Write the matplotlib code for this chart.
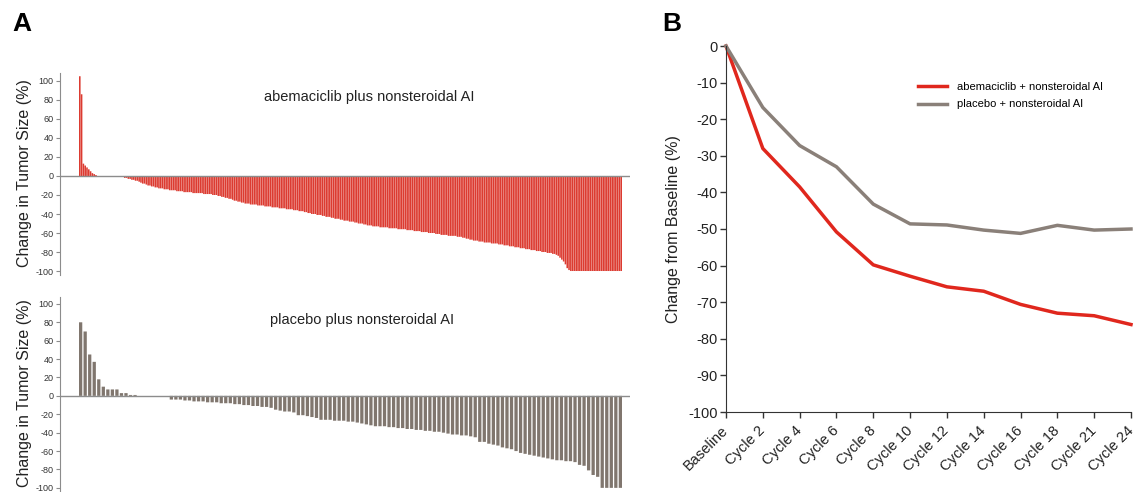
import matplotlib
matplotlib.use('Agg')
import matplotlib.pyplot as plt
import numpy as np

plt.rcParams['font.family'] = ['Liberation Sans', 'DejaVu Sans']
plt.rcParams['axes.unicode_minus'] = False

W, H = 1135, 492

# --- panel A data: best change in tumor size (%), sorted ---
abema_change = [
    105, 86, 13, 11, 9, 7, 5, 3, 2, 1,
    0, 0, 0, 0, 0, 0, 0, 0, 0, 0, 0, 0, 0,
    -1, -1, -2, -2, -3, -3, -4, -4, -5, -5,
    -6, -7, -8, -8, -9, -10, -10, -11, -11, -12,
    -12, -13, -13, -13, -14, -14, -14, -15, -15, -15,
    -15, -16, -16, -16, -16, -17, -17, -17, -17, -17,
    -18, -18, -18, -18, -18, -18, -19, -19, -19, -19,
    -19, -20, -20, -20, -21, -21, -22, -22, -23, -23,
    -24, -24, -25, -26, -26, -27, -27, -28, -28, -29,
    -29, -29, -30, -30, -30, -30, -31, -31, -31, -31,
    -32, -32, -32, -32, -33, -33, -33, -33, -34, -34,
    -34, -34, -35, -35, -35, -35, -36, -36, -36, -37,
    -37, -37, -38, -38, -39, -39, -40, -40, -40, -41,
    -41, -41, -42, -42, -43, -43, -43, -44, -44, -45,
    -45, -45, -46, -46, -47, -47, -47, -48, -48, -48,
    -49, -49, -50, -50, -50, -51, -51, -52, -52, -52,
    -53, -53, -53, -53, -54, -54, -54, -54, -54, -55,
    -55, -55, -55, -55, -56, -56, -56, -56, -56, -57,
    -57, -57, -57, -58, -58, -58, -58, -59, -59, -59,
    -59, -60, -60, -60, -60, -61, -61, -61, -62, -62,
    -62, -62, -63, -63, -63, -63, -63, -64, -64, -64,
    -65, -65, -66, -66, -67, -67, -68, -68, -68, -69,
    -69, -69, -70, -70, -70, -70, -71, -71, -71, -71,
    -72, -72, -72, -73, -73, -73, -74, -74, -74, -75,
    -75, -75, -76, -76, -76, -77, -77, -77, -78, -78,
    -78, -79, -79, -79, -80, -80, -80, -81, -81, -81,
    -82, -82, -83, -84, -86, -88, -90, -93, -97, -99,
    -100, -100, -100, -100, -100, -100, -100, -100, -100, -100,
    -100, -100, -100, -100, -100, -100, -100, -100, -100, -100,
    -100, -100, -100, -100, -100, -100, -100, -100, -100,
]

placebo_change = [
    80, 70, 45, 37, 18, 10, 7, 7, 7, 3, 3, 1, 1,
    0, 0, 0, 0, 0, 0, 0,
    -4, -4, -4, -5, -5, -6, -6, -6, -7, -7,
    -7, -8, -8, -8, -9, -9, -10, -10, -11, -11,
    -12, -12, -13, -15, -16, -17, -17, -18, -21, -21,
    -22, -23, -24, -26, -26, -26, -27, -27, -27, -28,
    -28, -29, -30, -31, -32, -33, -33, -33, -34, -34,
    -35, -35, -36, -36, -37, -37, -38, -38, -39, -39,
    -40, -41, -42, -42, -43, -43, -44, -45, -50, -50,
    -52, -53, -54, -56, -57, -58, -60, -62, -63, -64,
    -65, -66, -67, -68, -69, -70, -70, -71, -71, -72,
    -75, -76, -81, -86, -88, -100, -100, -100, -100, -100,
]

# --- panel B data: mean change from baseline (%) ---
visits = ['Baseline', 'Cycle 2', 'Cycle 4', 'Cycle 6', 'Cycle 8', 'Cycle 10',
          'Cycle 12', 'Cycle 14', 'Cycle 16', 'Cycle 18', 'Cycle 21', 'Cycle 24']
abema_mean = [0, -28, -38.5, -50.8, -59.8, -62.9, -65.8, -67, -70.6, -73, -73.7, -76.1]
placebo_mean = [0, -16.8, -27.2, -33, -43.2, -48.6, -48.9, -50.3, -51.2, -49, -50.3, -50]

RED_BAR = '#dc3b31'
GRAY_BAR = '#80766e'
RED_LINE = '#e0271d'
GRAY_LINE = '#8a8079'
AX_GRAY = '#8c8c8c'

fig = plt.figure(figsize=(W / 100, H / 100), dpi=100)


def px_rect(l, t, r, b):
    return [l / W, 1 - b / H, (r - l) / W, (b - t) / H]


def waterfall(rect, values, color, width, bar_l, bar_r, ylim, title, title_xy):
    ax = fig.add_axes(px_rect(*rect))
    n = len(values)
    x = np.arange(n)
    ax.bar(x, values, width=width, color=color, linewidth=0, snap=False)
    ppu = (bar_r - bar_l) / (n - 1 + width)
    ax.set_xlim(-width / 2 - (bar_l - rect[0]) / ppu,
                n - 1 + width / 2 + (rect[2] - bar_r) / ppu)
    ax.set_ylim(*ylim)
    ax.axhline(0, color=AX_GRAY, lw=1)
    for s in ['top', 'right', 'bottom']:
        ax.spines[s].set_visible(False)
    ax.spines['left'].set_color(AX_GRAY)
    ax.set_xticks([])
    ax.set_yticks(range(-100, 101, 20))
    ax.tick_params(axis='y', labelsize=6.5, length=3, width=0.8, color=AX_GRAY,
                   labelcolor='#333333', pad=1.5)
    ax.text(title_xy[0], title_xy[1], title, transform=ax.transAxes,
            ha='center', va='center', fontsize=10.5, color='#222222')
    return ax


waterfall((60, 73, 630, 275), abema_change, RED_BAR, 0.88, 79, 622,
          (-104.2, 108.4), 'abemaciclib plus nonsteroidal AI', (0.542, 0.88))
waterfall((60, 297, 630, 492), placebo_change, GRAY_BAR, 0.72, 79, 622,
          (-104.5, 107.5), 'placebo plus nonsteroidal AI', (0.53, 0.88))

fig.text(25 / W, 1 - 173 / H, 'Change in Tumor Size (%)', rotation=90,
         ha='center', va='center', fontsize=11.5, color='#222222')
fig.text(25 / W, 1 - 393 / H, 'Change in Tumor Size (%)', rotation=90,
         ha='center', va='center', fontsize=11.5, color='#222222')

# --- panel B ---
axb = fig.add_axes(px_rect(726, 46, 1131, 412))
xb = np.arange(len(visits))
axb.plot(xb, abema_mean, color=RED_LINE, lw=2.5, clip_on=False,
         label='abemaciclib + nonsteroidal AI', solid_joinstyle='round')
axb.plot(xb, placebo_mean, color=GRAY_LINE, lw=2.5, clip_on=False,
         label='placebo + nonsteroidal AI', solid_joinstyle='round')
axb.set_xlim(0, len(visits) - 1)
axb.set_ylim(-100, 0)
axb.set_yticks(range(-100, 1, 10))
axb.set_xticks(xb)
axb.set_xticklabels(visits, rotation=45, ha='right', va='center',
                    rotation_mode='anchor')
for s in ['top', 'right']:
    axb.spines[s].set_visible(False)
for s in ['left', 'bottom']:
    axb.spines[s].set_color('#333333')
axb.tick_params(labelsize=10.5, length=4, width=1, color='#333333',
                labelcolor='#222222', pad=2)
axb.tick_params(axis='x', pad=8)
axb.set_ylabel('Change from Baseline (%)', fontsize=11.5, color='#222222',
               labelpad=5)
axb.legend(loc='upper left', bbox_to_anchor=(0.45, 0.93), frameon=False,
           fontsize=8, handlelength=2.6, labelspacing=0.7, handletextpad=0.9)

fig.text(12 / W, 1 - 24 / H, 'A', fontsize=19, fontweight='bold', va='center')
fig.text(662 / W, 1 - 24 / H, 'B', fontsize=19, fontweight='bold', va='center')

fig.savefig('out.png', dpi=100)
